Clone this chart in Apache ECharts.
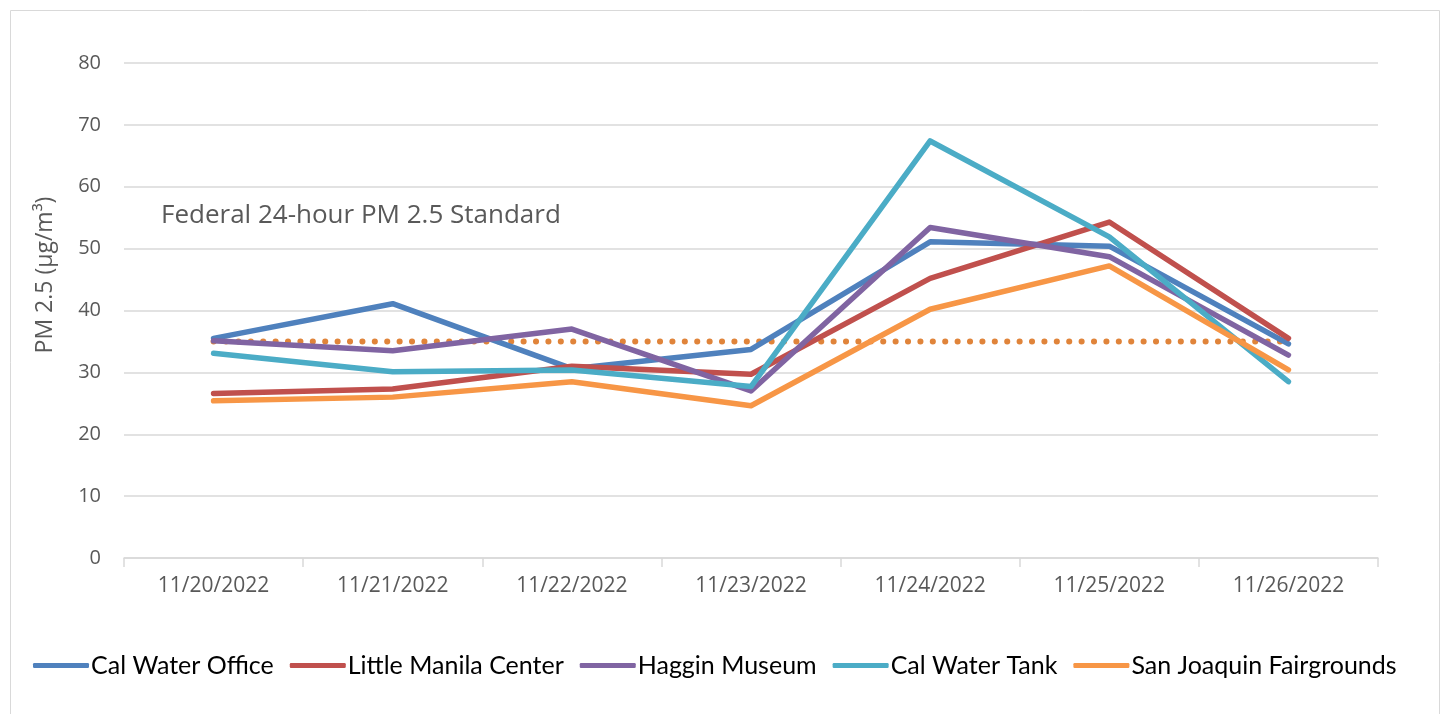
<!DOCTYPE html>
<html>
<head>
<meta charset="utf-8">
<script src="https://cdn.jsdelivr.net/npm/echarts@6/dist/echarts.min.js"></script>
<style>
  html, body { margin: 0; padding: 0; background: #fff; }
  #chart { width: 1449px; height: 714px; }
</style>
</head>
<body>
<div id="chart"></div>
<script>
// dates on the x axis
const dates = ['11/20/2022', '11/21/2022', '11/22/2022', '11/23/2022', '11/24/2022', '11/25/2022', '11/26/2022']

// PM 2.5 per site
const calWaterOffice = [35.5, 41.1, 30.6, 33.7, 51.1, 50.4, 34.6]
const littleManila = [26.6, 27.3, 31.0, 29.7, 45.2, 54.3, 35.5]
const hagginMuseum = [35.1, 33.5, 37.0, 27.0, 53.4, 48.7, 32.8]
const calWaterTank = [33.1, 30.1, 30.4, 27.7, 67.4, 51.9, 28.5]
const sanJoaquin = [25.4, 26.0, 28.5, 24.6, 40.2, 47.2, 30.4]

// federal 24h standard
const standard = [35, 35, 35, 35, 35, 35, 35]

const yTicks = { min: 0, max: 80, interval: 10 }

const chart = echarts.init(document.getElementById('chart'))

function lineSeries(name, data, color) {
  return {
    name: name,
    type: 'line',
    data: data,
    symbol: 'none',
    lineStyle: { color: color, width: 5.5, cap: 'round', join: 'round' },
    itemStyle: { color: color },
    z: 3
  }
}

chart.setOption({
  animation: false,
  textStyle: { fontFamily: 'Open Sans' },
  graphic: [
    {
      type: 'rect',
      shape: { x: 10.5, y: 10.5, width: 1429, height: 720 },
      style: { fill: 'none', stroke: '#D9D9D9', lineWidth: 1 },
      silent: true
    },
    {
      type: 'text',
      x: 161,
      y: 216,
      style: {
        text: 'Federal 24-hour PM 2.5 Standard',
        fill: '#595959',
        font: '26px "Open Sans"',
        verticalAlign: 'middle'
      }
    },
    // y axis title, sits a bit above the plot middle like the original
    {
      type: 'text',
      x: 45,
      y: 275,
      rotation: Math.PI / 2,
      style: {
        text: 'PM 2.5 (µg/m³)',
        fill: '#595959',
        font: '23px "Open Sans"',
        align: 'center',
        verticalAlign: 'middle'
      }
    }
  ],
  grid: { left: 124, right: 71, top: 63, bottom: 156 },
  legend: {
    left: 28,
    top: 648,
    itemWidth: 56,
    itemHeight: 5,
    itemGap: 16,
    icon: 'roundRect',
    textStyle: { color: '#000', fontSize: 25, fontFamily: 'Lato', padding: [0, 0, 0, -3] },
    data: ['Cal Water Office', 'Little Manila Center', 'Haggin Museum', 'Cal Water Tank', 'San Joaquin Fairgrounds']
  },
  xAxis: {
    type: 'category',
    data: dates,
    boundaryGap: true,
    axisLine: { lineStyle: { color: '#D9D9D9', width: 1.5 } },
    axisTick: { show: true, length: 9, lineStyle: { color: '#D9D9D9', width: 1.5 } },
    axisLabel: { color: '#595959', fontSize: 21, margin: 18 }
  },
  yAxis: {
    type: 'value',
    min: yTicks.min,
    max: yTicks.max,
    interval: yTicks.interval,
    axisLine: { show: false },
    axisTick: { show: false },
    axisLabel: { color: '#595959', fontSize: 20, margin: 23 },
    splitLine: { lineStyle: { color: '#D9D9D9', width: 1.5 } }
  },
  series: [
    {
      name: 'Standard',
      type: 'line',
      data: standard,
      symbol: 'none',
      lineStyle: { color: '#E0843A', width: 6, type: [0.1, 12.3], cap: 'round' },
      z: 2
    },
    lineSeries('Cal Water Office', calWaterOffice, '#4F81BD'),
    lineSeries('Little Manila Center', littleManila, '#C0504D'),
    lineSeries('Haggin Museum', hagginMuseum, '#8064A2'),
    lineSeries('Cal Water Tank', calWaterTank, '#4BACC6'),
    lineSeries('San Joaquin Fairgrounds', sanJoaquin, '#F79646')
  ]
})
</script>
</body>
</html>
